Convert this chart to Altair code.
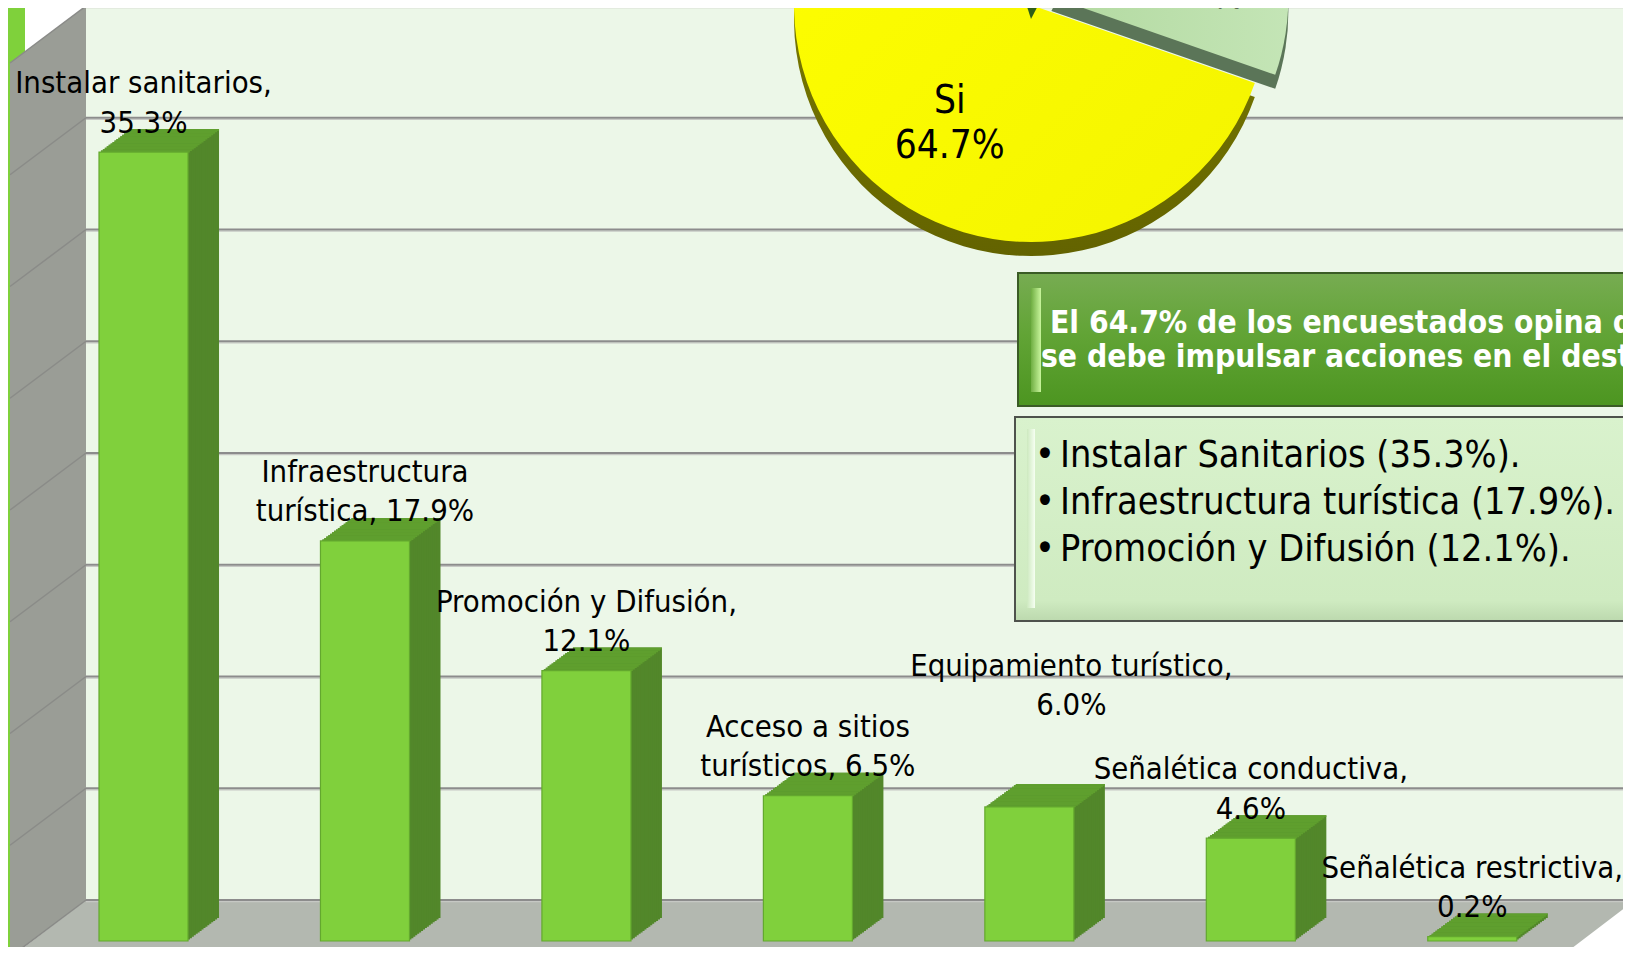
import math
import altair as alt
import pandas as pd

# ---------------- data ----------------
categories = ["Instalar sanitarios", "Infraestructura turística", "Promoción y Difusión",
              "Acceso a sitios turísticos", "Equipamiento turístico", "Señalética conductiva",
              "Señalética restrictiva"]
values = [35.3, 17.9, 12.1, 6.5, 6.0, 4.6, 0.2]
bar_labels = ["Instalar sanitarios,\n35.3%", "Infraestructura\nturística, 17.9%",
              "Promoción y Difusión,\n12.1%", "Acceso a sitios\nturísticos, 6.5%",
              "Equipamiento turístico,\n6.0%", "Señalética conductiva,\n4.6%",
              "Señalética restrictiva,\n0.2%"]
y_ticks = [0, 5, 10, 15, 20, 25, 30, 35, 40]

pie_categories = ["No", "Si", "No sabe"]
pie_values = [22.7, 64.7, 12.6]
pie_labels = ["No\n22.7%", "Si\n64.7%", "No sabe\n12.6%"]

headline = ["El 64.7% de los encuestados opina que",
            "se debe impulsar acciones en el destino."]
bullets = ["Instalar Sanitarios (35.3%).",
           "Infraestructura turística (17.9%).",
           "Promoción y Difusión (12.1%)."]

# ---------------- layout / style ----------------
W, H = 1615, 939
FONT = "DejaVu Sans Condensed"
FRONT, SIDE, TOP = "#80d03c", "#52872a", "#5f9f2e"
DEPTH_X, DEPTH_Y, NSTEP = 31.0, 23.0, 16
WALL_DY = -41

bars = pd.DataFrame({"cat": categories, "value": values, "label": bar_labels})
ticks = pd.DataFrame({"tick": y_ticks})
pie = pd.DataFrame({"cat": pie_categories, "value": pie_values, "label": pie_labels,
                    "idx": list(range(len(pie_categories)))})
one = pd.DataFrame({"k": [0]})
side_wall = pd.DataFrame({"px": [2, 78], "py": [55, -2], "py2": [950, 892]})
floor = pd.DataFrame({"py": [892, 950], "px": [78, 2], "px2": [1627, 1551]})
head1 = pd.DataFrame({"t": [headline[0]]})
head2 = pd.DataFrame({"t": [headline[1]]})
bul_df = pd.DataFrame({"t": ["\n".join(bullets)], "b": ["\n".join(["•"] * len(bullets))]})

xscale = alt.Scale(domain=categories, range=[91, 1508.8], paddingInner=0.598, paddingOuter=0)
yscale = alt.Scale(domain=[0, 40], range=[933, 39])
X = alt.X("cat:N", scale=xscale, axis=None)
Y = alt.Y("value:Q", scale=yscale, axis=None)

layers = []

# green slide strip
layers.append(alt.Chart(one).mark_rect(color="#7fd13b").encode(
    x=alt.value(0), x2=alt.value(17), y=alt.value(0), y2=alt.value(H)))
# back wall
layers.append(alt.Chart(one).mark_rect(color="#ecf7e8").encode(
    x=alt.value(78), x2=alt.value(W + 30), y=alt.value(-2), y2=alt.value(892)))
# side wall
layers.append(alt.Chart(side_wall).mark_area(color="#9a9d96").encode(
    x=alt.X("px:Q", scale=None), y=alt.Y("py:Q", scale=None), y2="py2:Q"))
# floor
layers.append(alt.Chart(floor).mark_area(color="#b3b8b0", orient="horizontal").encode(
    y=alt.Y("py:Q", scale=None), x=alt.X("px:Q", scale=None), x2="px2:Q"))
# gridlines on back wall
layers.append(alt.Chart(ticks).mark_rule(color="#c6c8c4", strokeWidth=1.2, yOffset=WALL_DY + 1.6).encode(
    x=alt.value(78), x2=alt.value(W + 30), y=alt.Y("tick:Q", scale=yscale, axis=None)))
layers.append(alt.Chart(ticks).mark_rule(color="#8c8c8c", strokeWidth=2, yOffset=WALL_DY).encode(
    x=alt.value(78), x2=alt.value(W + 30), y=alt.Y("tick:Q", scale=yscale, axis=None)))
# gridlines on side wall
layers.append(alt.Chart(ticks).mark_rule(color="#8a8b88", strokeWidth=1.5, yOffset=WALL_DY, y2Offset=16).encode(
    x=alt.value(78), x2=alt.value(2), y=alt.Y("tick:Q", scale=yscale, axis=None), y2="tick:Q"))

# 3D bars: side extrusion
for i in range(NSTEP, 0, -1):
    ox, oy = i * DEPTH_X / NSTEP, -i * DEPTH_Y / NSTEP
    layers.append(alt.Chart(bars).mark_bar(color=SIDE, xOffset=ox, yOffset=oy, y2Offset=oy).encode(
        x=X, y=Y, y2=alt.Y2Datum(0)))
# top faces
for i in range(NSTEP, 0, -1):
    ox, oy = i * DEPTH_X / NSTEP, -i * DEPTH_Y / NSTEP
    layers.append(alt.Chart(bars).mark_bar(color=TOP, xOffset=ox, yOffset=oy,
                                           y2Offset=oy + DEPTH_Y / NSTEP + 0.4).encode(
        x=X, y=Y, y2="value:Q"))
# front faces
layers.append(alt.Chart(bars).mark_bar(color=FRONT, stroke="#63a82e", strokeWidth=1.2).encode(
    x=X, y=Y, y2=alt.Y2Datum(0)))

# bar labels
lab = dict(font=FONT, fontSize=30.8, lineHeight=39.5, lineBreak="\n", align="center",
           baseline="alphabetic", color="black")
layers.append(alt.Chart(bars).transform_filter(alt.datum.cat != "Equipamiento turístico")
              .mark_text(dy=-59, **lab).encode(x=X, y=Y, text="label:N"))
layers.append(alt.Chart(bars).transform_filter(alt.datum.cat == "Equipamiento turístico")
              .mark_text(dy=-131, dx=42, **lab).encode(x=X, y=Y, text="label:N"))

# ---------------- pie ----------------
CX, CY, R, THICK = 1023, -3, 237, 14
T0 = math.radians(27.48)
EXX, EXY = 20.4, -8.1
tscale = alt.Scale(domain=[0, 100], range=[T0, T0 + 2 * math.pi])


def pie_base(cat):
    return (alt.Chart(pie)
            .transform_window(cum="sum(value)", sort=[alt.SortField("idx")], frame=[None, 0])
            .transform_calculate(start="datum.cum - datum.value", mid="datum.cum - datum.value/2")
            .transform_filter(alt.datum.cat == cat))


def grad(c0, c1, x2=1, y2=0):
    return alt.Gradient(gradient="linear", x1=0, y1=0, x2=x2, y2=y2,
                        stops=[alt.GradientStop(color=c0, offset=0), alt.GradientStop(color=c1, offset=1)])


pie_style = {
    "Si": dict(top=grad("#ffff00", "#f4f400", 1, 1), side=grad("#8a8a00", "#636300", 0, 1), ox=0, oy=0),
    "No sabe": dict(top=grad("#54a02c", "#4a9426"), side=grad("#2f5e18", "#2f5e18"), ox=0, oy=0),
    "No": dict(top=grad("#b2d9a0", "#c4e5b6"), side=grad("#5b7558", "#5b7558"), ox=EXX, oy=EXY),
}
enc_arc = dict(theta=alt.Theta("start:Q", scale=tscale), theta2="cum:Q",
               x=alt.value(CX), y=alt.value(CY))
for c in ["Si", "No sabe", "No"]:
    st = pie_style[c]
    layers.append(pie_base(c).mark_arc(radius=R, fill=st["side"], xOffset=st["ox"],
                                       yOffset=st["oy"] + THICK).encode(**enc_arc))
    layers.append(pie_base(c).mark_arc(radius=R, fill=st["top"], xOffset=st["ox"],
                                       yOffset=st["oy"]).encode(**enc_arc))

plab = dict(font=FONT, fontSize=38.5, lineHeight=45, lineBreak="\n", align="center",
            baseline="middle", color="black")
enc_lab = dict(theta=alt.Theta("mid:Q", scale=tscale), text="label:N",
               x=alt.value(CX), y=alt.value(CY))
layers.append(pie_base("Si").mark_text(radius=150, dx=26, dy=-9, **plab).encode(**enc_lab))
layers.append(pie_base("No").mark_text(radius=140, dx=8, dy=6, xOffset=EXX, yOffset=EXY,
                                       **plab).encode(**enc_lab))
layers.append(pie_base("No sabe").mark_text(radius=150, **plab).encode(**enc_lab))

# ---------------- text boxes ----------------
layers.append(alt.Chart(one).mark_rect(
    fill=alt.Gradient(gradient="linear", x1=0, y1=0, x2=0, y2=1,
                      stops=[alt.GradientStop(color="#77ac52", offset=0),
                             alt.GradientStop(color="#62a436", offset=0.45),
                             alt.GradientStop(color="#4c9520", offset=1)]),
    stroke="#3a5c25", strokeWidth=2).encode(
    x=alt.value(1010), x2=alt.value(W + 30), y=alt.value(265), y2=alt.value(398)))
layers.append(alt.Chart(one).mark_rect(fill=grad("#6fae42", "#c8f59c")).encode(
    x=alt.value(1023), x2=alt.value(1033), y=alt.value(280), y2=alt.value(384)))
hl = dict(font=FONT, fontSize=31.5, fontWeight="bold", color="white", align="left",
          baseline="alphabetic")
layers.append(alt.Chart(head1).mark_text(**hl).encode(
    x=alt.value(1042), y=alt.value(325), text="t:N"))
layers.append(alt.Chart(head2).mark_text(**hl).encode(
    x=alt.value(1033), y=alt.value(359), text="t:N"))

layers.append(alt.Chart(one).mark_rect(
    fill=alt.Gradient(gradient="linear", x1=0, y1=0, x2=0, y2=1,
                      stops=[alt.GradientStop(color="#d9f2cd", offset=0),
                             alt.GradientStop(color="#cfebc1", offset=0.9),
                             alt.GradientStop(color="#bcd9ae", offset=1)]),
    stroke="#4e524c", strokeWidth=2).encode(
    x=alt.value(1007), x2=alt.value(W + 30), y=alt.value(409), y2=alt.value(613)))
layers.append(alt.Chart(one).mark_rect(fill=grad("#cde9bf", "#f6fff2")).encode(
    x=alt.value(1019), x2=alt.value(1027), y=alt.value(421), y2=alt.value(600)))
bl = dict(font=FONT, fontSize=37.5, color="black", align="left", baseline="alphabetic",
          lineBreak="\n", lineHeight=47)
layers.append(alt.Chart(bul_df).mark_text(**bl).encode(x=alt.value(1027), y=alt.value(459), text="b:N"))
layers.append(alt.Chart(bul_df).mark_text(**bl).encode(x=alt.value(1052), y=alt.value(459), text="t:N"))

chart = alt.layer(*layers).properties(
    width=W, height=H, autosize=alt.AutoSizeParams(type="none"), padding=0,
    background="white").configure_view(strokeWidth=0)

chart.save("out.html", embed_options={"renderer": "svg", "actions": False})
